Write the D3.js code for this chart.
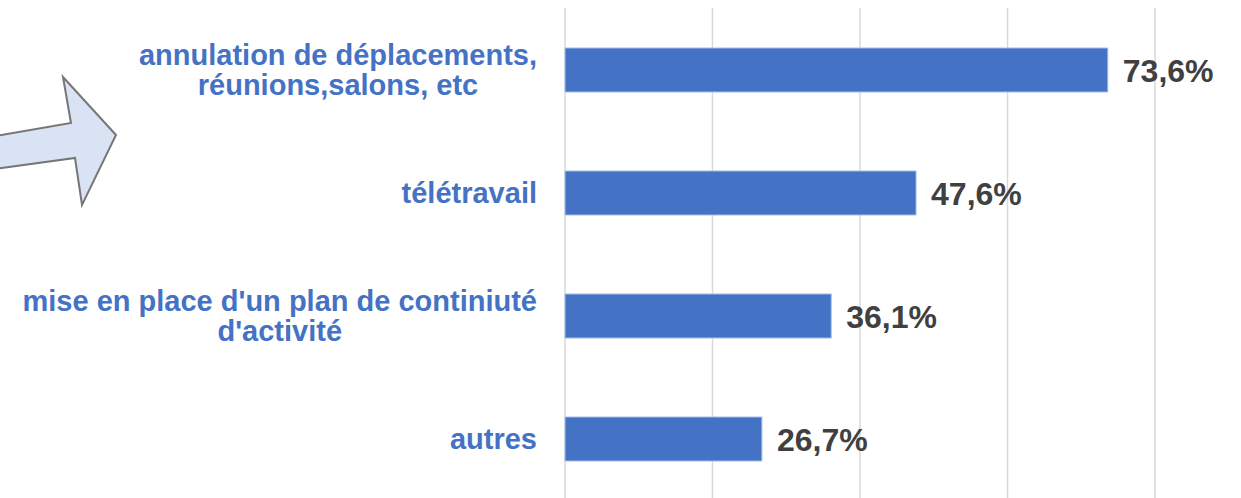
<!DOCTYPE html>
<html lang="fr">
<head>
<meta charset="UTF-8">
<title>Mesures</title>
<style>
    body { margin: 0; background: #fff; }
    svg { display: block; }
    .cat { font-family: "Liberation Sans", Arial, sans-serif; font-weight: bold; font-size: 29px; fill: #4472C4; }
    .val { font-family: "Liberation Sans", Arial, sans-serif; font-weight: bold; font-size: 32px; fill: #404040; }
    .grid line { stroke: #d9d9d9; stroke-width: 1.5; }
</style>
</head>
<body>
<svg id="chart"></svg>
<script src="https://cdn.jsdelivr.net/npm/d3@7"></script>
<script>
const width = 1241, height = 498;

const categories = [
    ["annulation de déplacements,", "réunions,salons, etc"],
    ["télétravail"],
    ["mise en place d'un plan de continiuté", "d'activité"],
    ["autres"]
];
const values = [73.6, 47.6, 36.1, 26.7];
const gridTicks = [0, 20, 40, 60, 80];

const svg = d3.select("#chart")
    .attr("width", width)
    .attr("height", height);

const x = d3.scaleLinear()
    .domain([0, 80])
    .range([565, 1155]);

const y = d3.scaleBand()
    .domain(d3.range(values.length))
    .range([8.5, 500.5])
    .paddingInner(0.642)
    .paddingOuter(0.321);

// gridlines
svg.append("g")
    .attr("class", "grid")
    .selectAll("line")
    .data(gridTicks)
    .join("line")
    .attr("x1", d => x(d))
    .attr("x2", d => x(d))
    .attr("y1", 8)
    .attr("y2", height);

// arrow on the left
svg.append("path")
    .attr("d", "M-5,136 L71,123 L63,77 L116,135 L82,205 L75,158 L-5,169 Z")
    .attr("fill", "#dae3f3")
    .attr("stroke", "#767676")
    .attr("stroke-width", 2)
    .attr("stroke-linejoin", "miter");

// bars
svg.append("g")
    .selectAll("rect")
    .data(values)
    .join("rect")
    .attr("x", x(0))
    .attr("y", (d, i) => y(i))
    .attr("width", d => x(d) - x(0))
    .attr("height", y.bandwidth())
    .attr("fill", "#4472C4")
    .attr("stroke", "#a9c1e9")
    .attr("stroke-width", 1);

// value labels
svg.append("g")
    .selectAll("text")
    .data(values)
    .join("text")
    .attr("class", "val")
    .attr("x", d => x(d) + 15)
    .attr("y", (d, i) => y(i) + y.bandwidth() / 2)
    .attr("dy", "0.36em")
    .text(d => d.toFixed(1).replace(".", ",") + "%");

// category labels, centred lines, block right-aligned at 537
const lineH = 30;
const labels = svg.append("g")
    .selectAll("text")
    .data(categories)
    .join("text")
    .attr("class", "cat")
    .attr("text-anchor", "middle");

labels.each(function(lines, i) {
    const t = d3.select(this);
    const cy = y(i) + y.bandwidth() / 2;
    const first = cy - (lines.length - 1) * lineH / 2;
    t.selectAll("tspan")
        .data(lines)
        .join("tspan")
        .attr("y", (d, j) => first + j * lineH)
        .attr("dy", "0.36em")
        .text(d => d);
    let maxW = 0;
    t.selectAll("tspan").each(function() {
        maxW = Math.max(maxW, this.getComputedTextLength());
    });
    t.selectAll("tspan").attr("x", 537 - maxW / 2);
});
</script>
</body>
</html>
